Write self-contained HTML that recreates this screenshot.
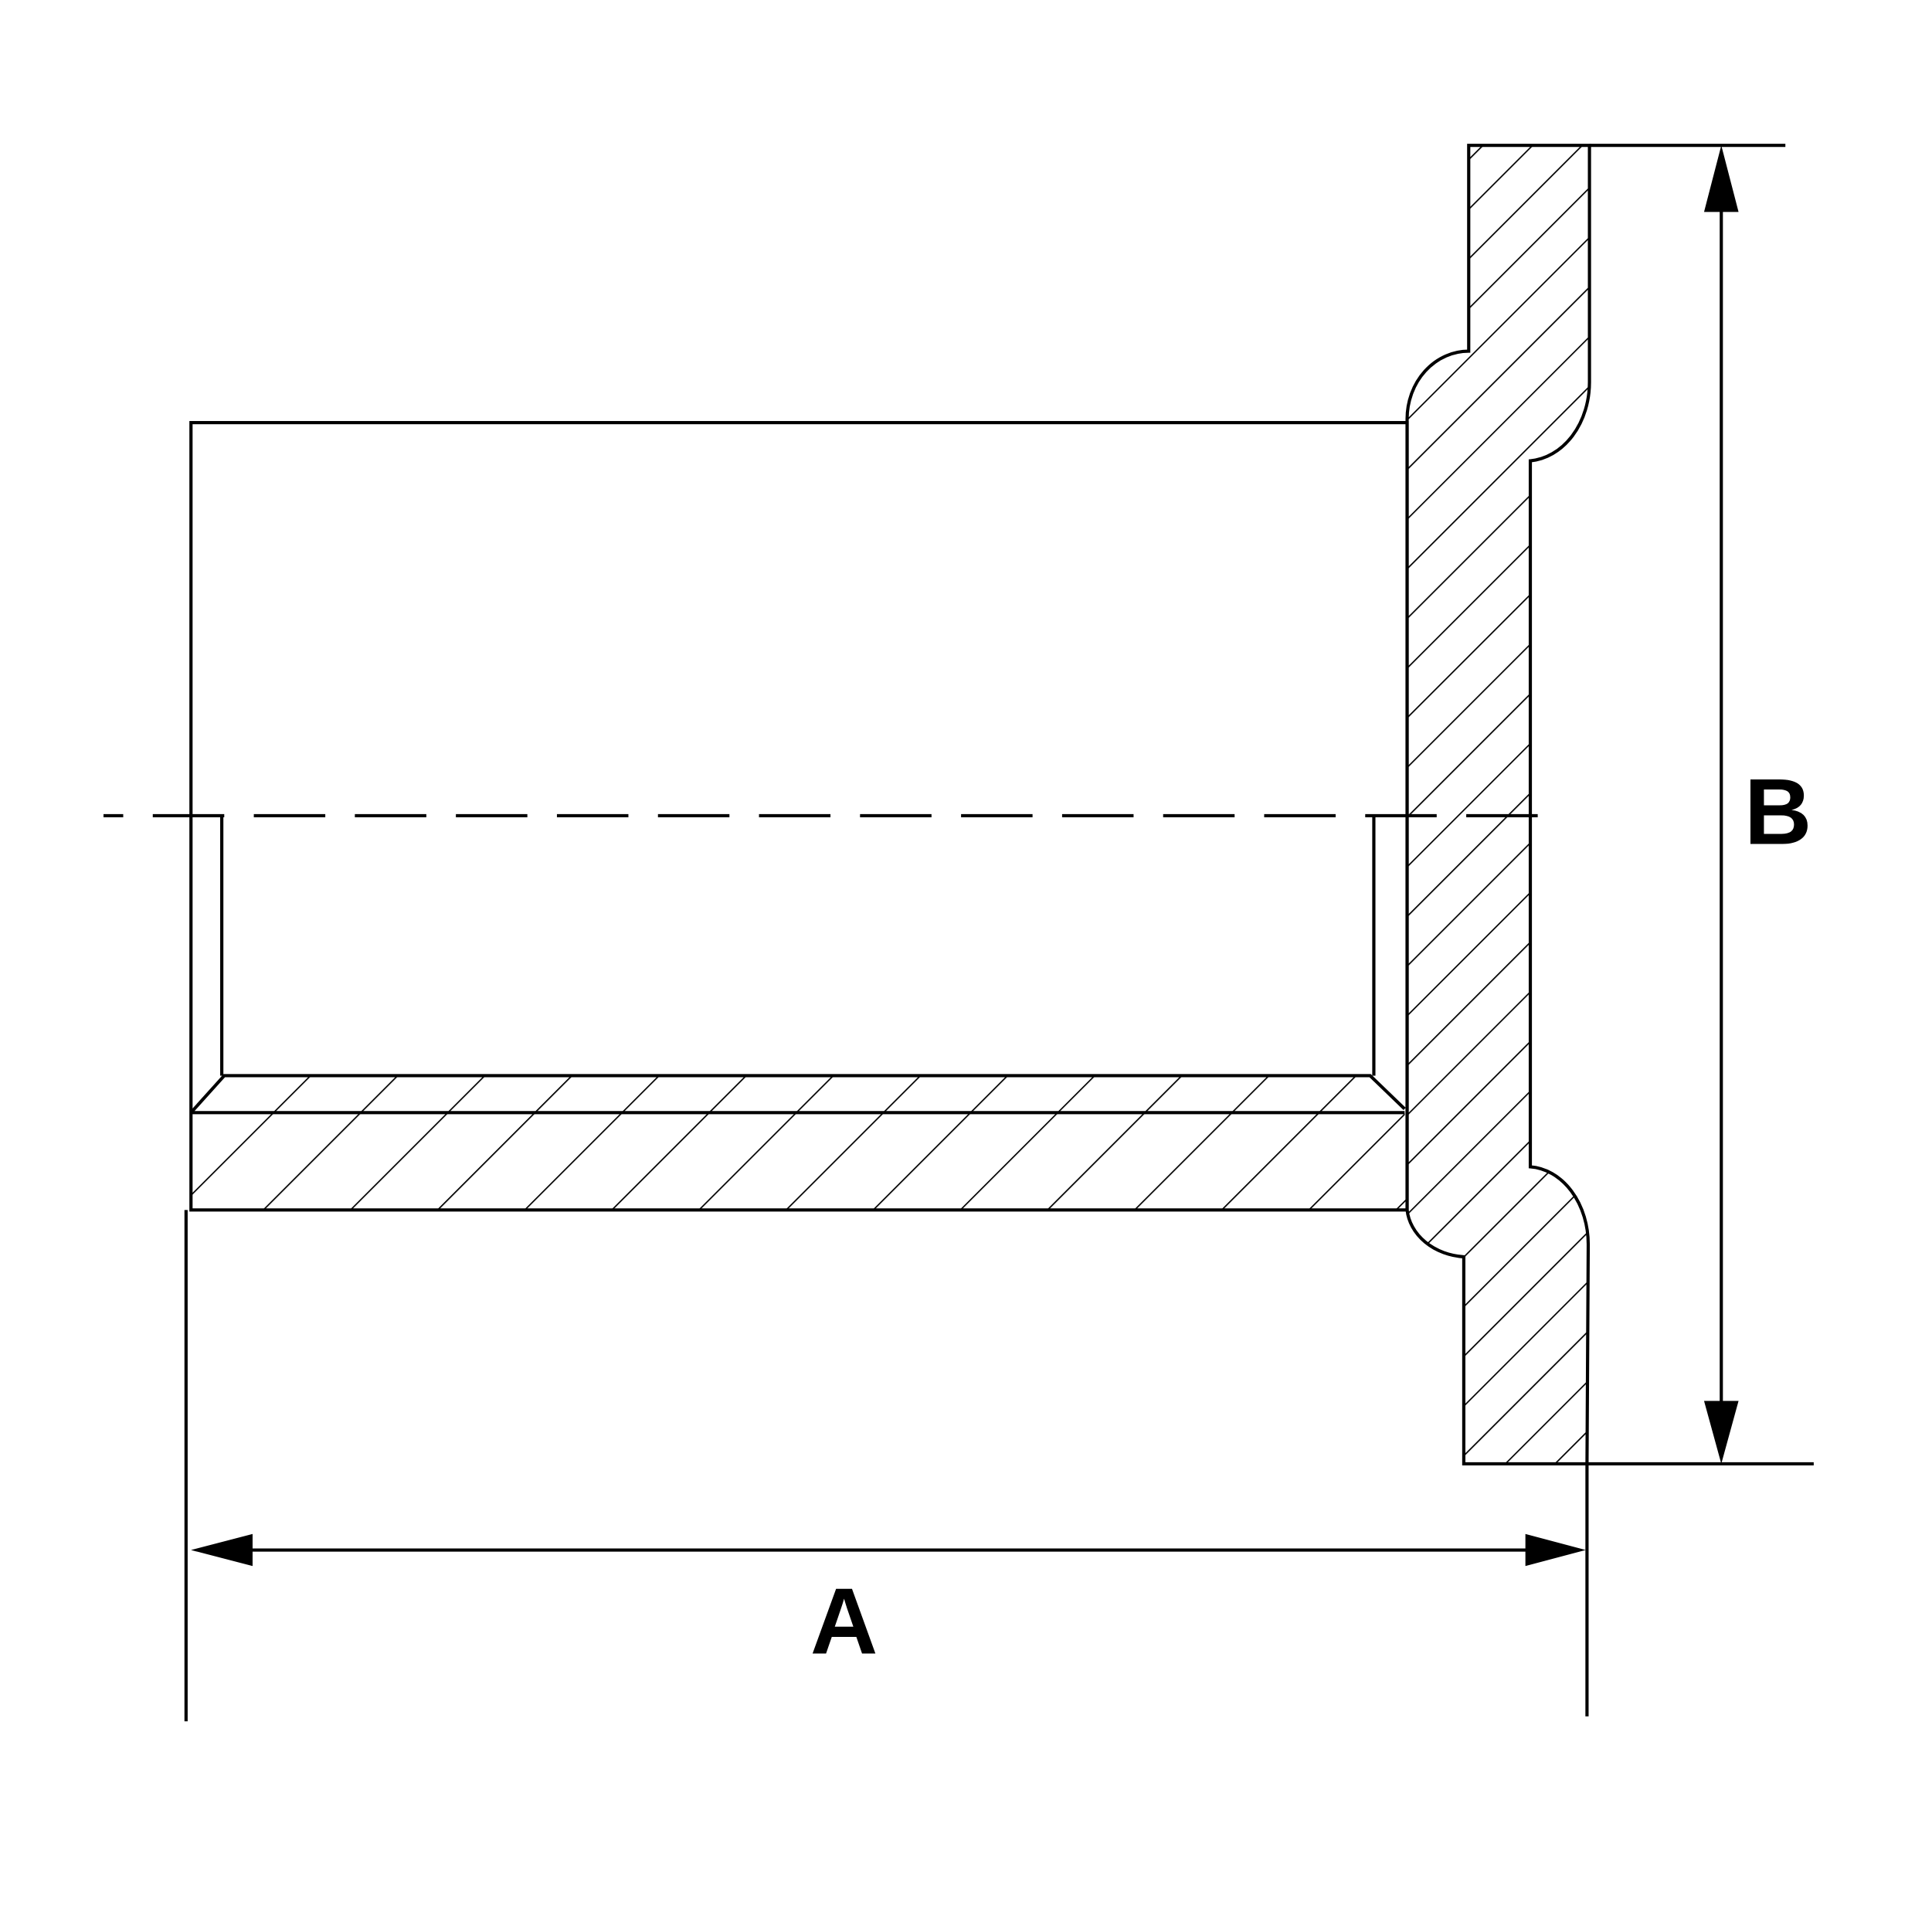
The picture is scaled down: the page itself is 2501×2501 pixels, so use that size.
<!DOCTYPE html>
<html><head><style>html,body{margin:0;padding:0;background:#fff}svg{display:block}</style></head>
<body>
<svg width="2501" height="2501" viewBox="0 0 1568 1568" xmlns="http://www.w3.org/2000/svg">
<defs>
<pattern id="hb" width="50" height="50" patternUnits="userSpaceOnUse" patternTransform="translate(213,982) rotate(45)">
<line x1="0" y1="-10" x2="0" y2="60" stroke="#000" stroke-width="2.2"/></pattern>
<pattern id="hf" width="28.5" height="28.5" patternUnits="userSpaceOnUse" patternTransform="translate(1142,340) rotate(45)">
<line x1="0" y1="-10" x2="0" y2="40" stroke="#000" stroke-width="2.2"/></pattern>
<clipPath id="cb"><path d="M155,903 L182,873 L1112,873 L1140,900 L1142,982 L155,982 Z"/></clipPath>
</defs>
<g fill="none" stroke="#000" stroke-width="2.6">
<rect x="150" y="870" width="995" height="115" fill="url(#hb)" stroke="none" clip-path="url(#cb)"/>
<path d="M1192,118 L1290,118 L1290,310 A52,64 0 0 1 1242,374 L1242,947 A50,63 0 0 1 1289,1010 L1288,1188 L1188,1188 L1188,1020 A50,42 0 0 1 1142,982 L1142,340 A50,55 0 0 1 1192,285 Z" fill="url(#hf)"/>
<rect x="155" y="343" width="987" height="639"/>
<line x1="155" y1="903" x2="1140" y2="903"/>
<path d="M155,903 L182,873 L1112,873 L1140,900"/>
<path d="M180,662 L180,873 M1115,662 L1115,873"/>
<line x1="84" y1="662" x2="1262" y2="662" stroke-dasharray="58,24" stroke-dashoffset="-40"/>
<line x1="1290" y1="118" x2="1449" y2="118"/>
<line x1="1288" y1="1188" x2="1472" y2="1188"/>
<line x1="1397" y1="150" x2="1397" y2="1160"/>
<line x1="151" y1="982" x2="151" y2="1397"/>
<line x1="1288" y1="1188" x2="1288" y2="1393"/>
<line x1="180" y1="1258" x2="1260" y2="1258"/>
</g>
<g fill="#000">
<polygon points="1397,118 1383,172 1411,172"/>
<polygon points="1397,1188 1383,1137 1411,1137"/>
<polygon points="155,1258 205,1245 205,1271"/>
<polygon points="1287,1258 1238,1245 1238,1271"/>
<text x="685" y="1342" font-family="Liberation Sans, sans-serif" font-weight="bold" font-size="76" text-anchor="middle">A</text>
<text x="1443" y="685" font-family="Liberation Sans, sans-serif" font-weight="bold" font-size="76" text-anchor="middle">B</text>
</g>
</svg>
</body></html>
